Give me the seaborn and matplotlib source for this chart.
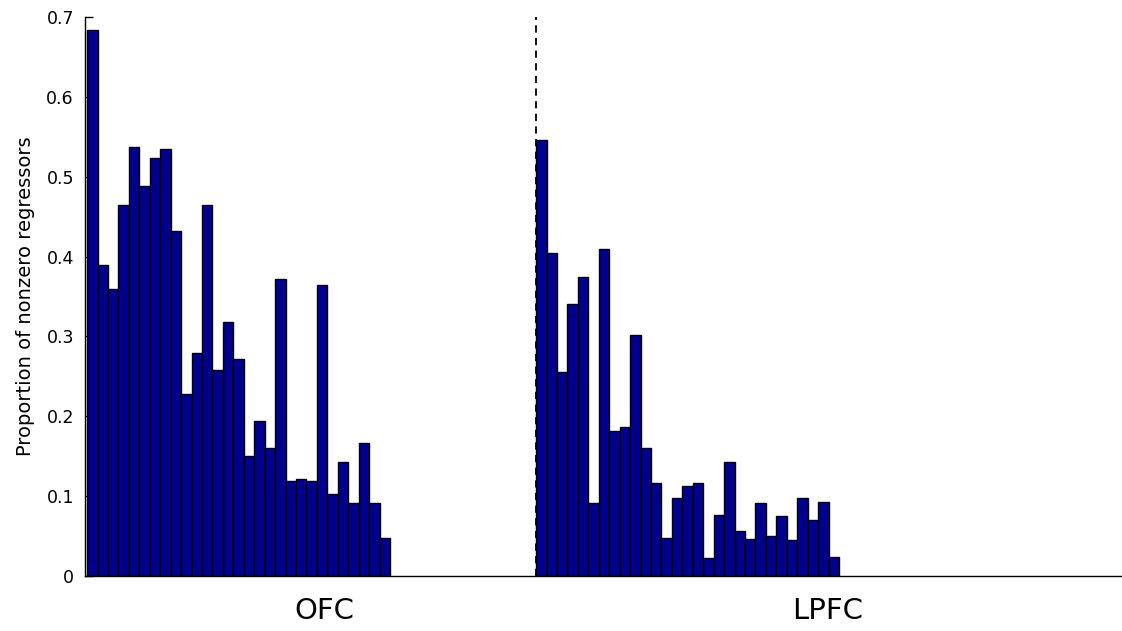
import matplotlib
matplotlib.use("Agg")
import matplotlib.pyplot as plt
import seaborn as sns
import pandas as pd
import numpy as np

sns.set_style("white")
plt.rcParams['font.family'] = ['DejaVu Sans']
plt.rcParams['text.color'] = 'black'
plt.rcParams['axes.labelcolor'] = 'black'
plt.rcParams['xtick.color'] = 'black'
plt.rcParams['ytick.color'] = 'black'

regions = ["OFC", "LPFC"]
ofc_values = [0.684, 0.390, 0.360, 0.465, 0.537, 0.488, 0.523, 0.535, 0.432, 0.228,
              0.279, 0.465, 0.258, 0.318, 0.272, 0.150, 0.194, 0.160, 0.372, 0.119,
              0.122, 0.119, 0.364, 0.103, 0.143, 0.092, 0.167, 0.091, 0.048]
lpfc_values = [0.546, 0.405, 0.256, 0.341, 0.375, 0.092, 0.409, 0.182, 0.186, 0.302,
               0.160, 0.116, 0.048, 0.098, 0.113, 0.116, 0.022, 0.077, 0.143, 0.056,
               0.046, 0.091, 0.050, 0.075, 0.045, 0.098, 0.070, 0.093, 0.024]
lpfc_offset = 43
yticks = [0, 0.1, 0.2, 0.3, 0.4, 0.5, 0.6, 0.7]
ytick_labels = ["0", "0.1", "0.2", "0.3", "0.4", "0.5", "0.6", "0.7"]

pos = list(range(len(ofc_values))) + [lpfc_offset + i for i in range(len(lpfc_values))]
df = pd.DataFrame({"pos": pos, "value": ofc_values + lpfc_values})

fig = plt.figure(figsize=(11.22, 6.31), dpi=100)
ax = fig.add_axes([85 / 1122, 1 - 576 / 631, (1121 - 85) / 1122, (576 - 17) / 631])

sns.barplot(data=df, x="pos", y="value", native_scale=True, width=1.0,
            color="#00008C", saturation=1, edgecolor="black", linewidth=1.0, ax=ax)

ax.axvline(lpfc_offset - 0.5, ymin=0, ymax=1, color="black", linestyle=(0, (4, 3)), linewidth=1.3)

ax.set_xlim(-0.7, 98.5)
ax.set_ylim(0, 0.7)
ax.set_yticks(yticks)
ax.set_yticklabels(ytick_labels, fontsize=12.5)
ax.set_xticks([])
ax.set_xlabel("")
ax.set_ylabel("Proportion of nonzero regressors", fontsize=14, labelpad=8)
ax.tick_params(axis="y", direction="in", length=6, width=1, left=True, pad=8)
for s in ["top", "right"]:
    ax.spines[s].set_visible(False)
for s in ["left", "bottom"]:
    ax.spines[s].set_visible(True)
    ax.spines[s].set_color("black")
    ax.spines[s].set_linewidth(1)

ax.text((325 - 85) / 1037, -(611 - 576) / 559, regions[0], transform=ax.transAxes,
        ha="center", va="center", fontsize=21)
ax.text((828 - 85) / 1037, -(611 - 576) / 559, regions[1], transform=ax.transAxes,
        ha="center", va="center", fontsize=21)

fig.savefig("out.png", dpi=100, facecolor="white")
